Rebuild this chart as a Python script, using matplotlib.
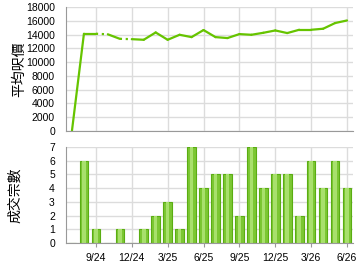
"""Average price per sq ft and monthly transaction count."""

import matplotlib
matplotlib.use("Agg")
import matplotlib.pyplot as plt
import numpy as np

months = ["7/24", "8/24", "9/24", "10/24", "11/24", "12/24",
          "1/25", "2/25", "3/25", "4/25", "5/25", "6/25",
          "7/25", "8/25", "9/25", "10/25", "11/25", "12/25",
          "1/26", "2/26", "3/26", "4/26", "5/26", "6/26"]
avg_price = [0, 14140, 14140, 14060, 13400, 13350,
             13260, 14330, 13260, 13990, 13650, 14680,
             13650, 13510, 14090, 13990, 14280, 14620,
             14240, 14720, 14720, 14870, 15700, 16080]
deals = [0, 6, 1, 0, 1, 0,
         1, 2, 3, 1, 7, 4,
         5, 5, 2, 7, 4, 5,
         5, 2, 6, 4, 6, 4]
tick_labels = ["9/24", "12/24", "3/25", "6/25", "9/25", "12/25", "3/26", "6/26"]

plt.rcParams["font.family"] = ["Liberation Sans", "Noto Sans CJK TC", "DejaVu Sans"]

x = np.arange(len(months))
tick_pos = [months.index(t) for t in tick_labels]

fig = plt.figure(figsize=(3.6, 2.7), dpi=100)
ax1 = fig.add_axes([0.1833, 0.516, 0.7973, 0.457])
ax2 = fig.add_axes([0.1833, 0.100, 0.7973, 0.3556])

grid_c = "#dcdcdc"
line_c = "#66c400"

for ax in (ax1, ax2):
    ax.set_xlim(-0.5, 23.5)
    ax.set_xticks(tick_pos)
    ax.grid(True, color=grid_c, linewidth=1)
    ax.set_axisbelow(True)
    for s in ("top", "right"):
        ax.spines[s].set_visible(False)
    for s in ("left", "bottom"):
        ax.spines[s].set_color("#999999")
    ax.tick_params(axis="y", length=0, labelsize=7.5, pad=8)

# price line, dotted into months without deals
for i in range(len(x) - 1):
    ls = ":" if deals[i + 1] == 0 else "-"
    ax1.plot(x[i:i + 2], avg_price[i:i + 2], color=line_c, linewidth=1.6,
             linestyle=ls, solid_capstyle="round")
ax1.set_ylim(0, 18000)
ax1.set_yticks(np.arange(0, 18001, 2000))
ax1.tick_params(axis="x", length=0, labelbottom=False)
ax1.set_ylabel("平均呎價", fontsize=10, labelpad=0)

ax2.bar(x, deals, width=0.72, color="#7cc733", edgecolor="#5aad12", linewidth=0.8)
ax2.bar(x, deals, width=0.3, color="#a8e06c", linewidth=0)
ax2.set_ylim(0, 7)
ax2.set_yticks(range(0, 8))
ax2.set_xticklabels(tick_labels)
ax2.tick_params(axis="x", length=3, color="#999999", labelsize=7.5, pad=4)
ax2.set_ylabel("成交宗數", fontsize=10, labelpad=19)

fig.savefig("out.png", dpi=100)
plt.close(fig)
